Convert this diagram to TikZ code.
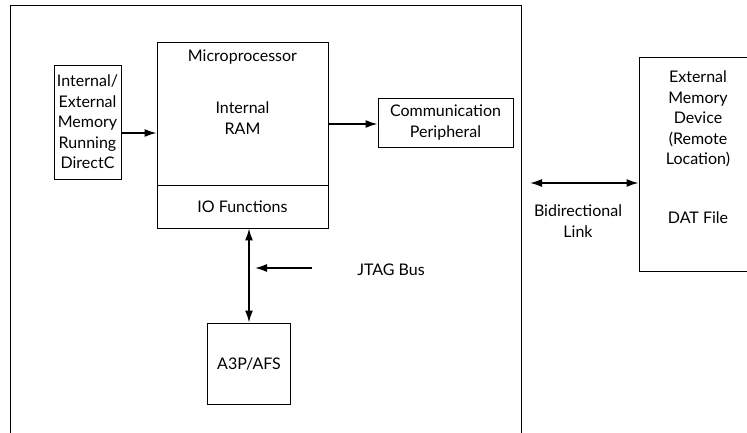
\documentclass[tikz,border=0pt]{standalone}
\usepackage{fontspec}
\setmainfont{Lato}
\usetikzlibrary{arrows.meta}
\begin{document}
\begin{tikzpicture}[x=1pt,y=-1pt,
    font=\fontsize{16}{20.5}\selectfont,
    box/.style={draw,line width=0.9pt,inner sep=0pt,align=center},
    lbl/.style={inner sep=0pt,align=center},
    tip/.tip={Latex[length=12pt,width=8pt]},
    arr/.style={-tip,line width=1.6pt},
    dbl/.style={tip-tip,line width=1.6pt}]
    \useasboundingbox (0,0) rectangle (747,432);
    \clip (0,0) rectangle (747,432);

    % board
    \draw[line width=0.9pt] (10,440) -- (10,5) -- (521,5) -- (521,440);

    \node (mem)  at (87.5,122)  [box,minimum width=67pt,minimum height=114pt] {Internal/\\External\\Memory\\Running\\DirectC};
    \node (cpu)  at (242.5,113.5) [box,minimum width=171pt,minimum height=143pt] {};
    \node (io)   at (242.5,206.5) [box,minimum width=171pt,minimum height=43pt] {IO Functions};
    \node (comm) at (445.5,122.5) [box,minimum width=135pt,minimum height=49pt] {Communication\\Peripheral};
    \node (a3p)  at (249,363.5)   [box,minimum width=83pt,minimum height=81pt] {A3P/AFS};
    \node (ext)  at (699.5,164)   [box,minimum width=121pt,minimum height=214pt] {};

    \node (cpulbl) at (242.5,57)  [lbl] {Microprocessor};
    \node (ram)    at (242.5,118) [lbl] {Internal\\RAM};
    \node (jtag)   at (391,270)   [lbl] {JTAG Bus};
    \node (link)   at (578,221)   [lbl] {Bidirectional\\Link};
    \node (extlbl) at (698,119)   [lbl] {External\\Memory\\Device\\(Remote\\Location)};
    \node (dat)    at (698,218)   [lbl] {DAT File};

    \coordinate (jtagtip) at (255,268);
    \coordinate (linkend) at (530,183);

    \draw[arr] ([yshift=-11]mem.east) -- ([yshift=-11]mem.east -| cpu.west);
    \draw[arr] ([yshift=-1.5]comm.west -| cpu.east) -- ([yshift=-1.5]comm.west);
    \draw[dbl] (io.south -| a3p.north) -- (a3p.north);
    \draw[arr] (312,268) -- (jtagtip);
    \draw[dbl] (linkend) -- (linkend -| ext.west);

\end{tikzpicture}
\end{document}
